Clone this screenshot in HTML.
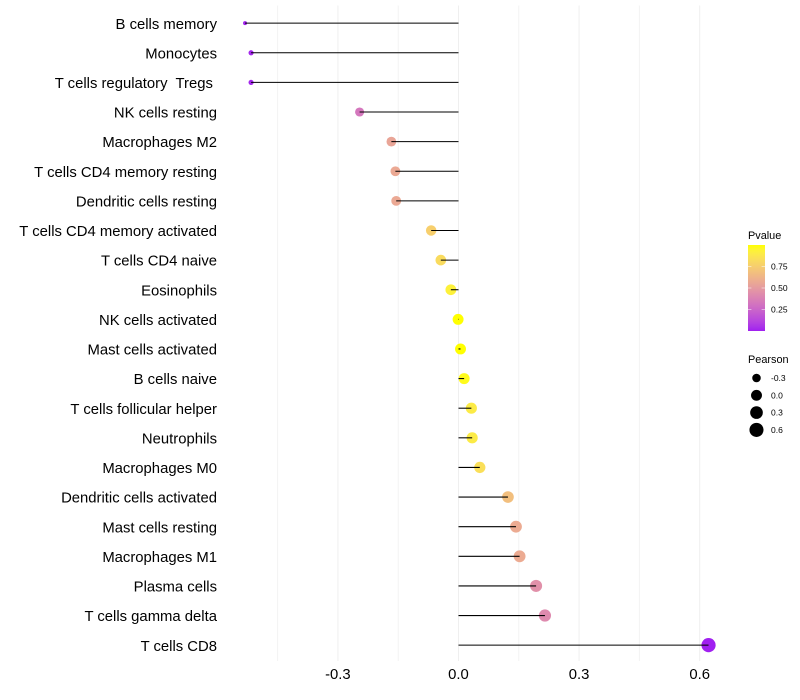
<!DOCTYPE html>
<html>
<head>
<meta charset="utf-8">
<title>Pearson lollipop chart</title>
<style>
html,body{margin:0;padding:0;background:#fff;}
svg{display:block;font-family:"Liberation Sans",sans-serif;}
text{white-space:pre;}
</style>
</head>
<body>
<svg id="chart" xmlns="http://www.w3.org/2000/svg" width="800" height="700" viewBox="0 0 800 700">
  <rect width="800" height="700" fill="#ffffff"/>
  <g id="grid"></g>
  <g id="stems"></g>
  <g id="ylabels"></g>
  <g id="xlabels"></g>
  <g id="pvalue-legend">
    <text x="748" y="239" font-size="10.9" fill="#000">Pvalue</text>
  </g>
  <g id="pearson-legend">
    <text x="748" y="363" font-size="10.9" fill="#000">Pearson</text>
  </g>
</svg>
<script>
const categories = ["B cells memory","Monocytes","T cells regulatory  Tregs ","NK cells resting","Macrophages M2","T cells CD4 memory resting","Dendritic cells resting","T cells CD4 memory activated","T cells CD4 naive","Eosinophils","NK cells activated","Mast cells activated","B cells naive","T cells follicular helper","Neutrophils","Macrophages M0","Dendritic cells activated","Mast cells resting","Macrophages M1","Plasma cells","T cells gamma delta","T cells CD8"];
const pearson = [-0.531,-0.516,-0.516,-0.246,-0.167,-0.157,-0.155,-0.068,-0.044,-0.019,-0.001,0.005,0.014,0.032,0.034,0.053,0.123,0.143,0.152,0.193,0.215,0.622];
const pvalues = [0.01,0.02,0.02,0.33,0.55,0.57,0.57,0.76,0.82,0.93,1.0,1.0,0.98,0.90,0.90,0.84,0.68,0.58,0.58,0.45,0.42,0.0];
const xMajorTicks = [-0.3,0.0,0.3,0.6];
const xMinorTicks = [-0.45,-0.15,0.15,0.45];
const pvalueTicks = [0.25,0.50,0.75];
const pearsonLegendValues = [-0.3,0.0,0.3,0.6];

const NS = "http://www.w3.org/2000/svg";
const xScale = v => 458.5 + v * 402;
const yScale = i => 23.15 + i * (622 / (categories.length - 1));
const minP = Math.min(...pearson), maxP = Math.max(...pearson);
const sizeScale = v => 2.0 + 5.1 * Math.sqrt(Math.max(0, (v - minP) / (maxP - minP)));
function lin(c){c/=255;return c>0.04045?Math.pow((c+0.055)/1.055,2.4):c/12.92;}
function gam(c){c=c<=0.0031308?12.92*c:1.055*Math.pow(c,1/2.4)-0.055;return Math.round(Math.min(1,Math.max(0,c))*255);}
function toLab(r,g,b){
  r=lin(r);g=lin(g);b=lin(b);
  const f=t=>t>0.008856?Math.cbrt(t):7.787*t+16/116;
  const X=f((0.4124*r+0.3576*g+0.1805*b)/0.95047),Y=f(0.2126*r+0.7152*g+0.0722*b),Z=f((0.0193*r+0.1192*g+0.9505*b)/1.08883);
  return [116*Y-16,500*(X-Y),200*(Y-Z)];
}
function fromLab(L,a,b){
  const fy=(L+16)/116,fx=a/500+fy,fz=fy-b/200;
  const g=t=>t*t*t>0.008856?t*t*t:(t-16/116)/7.787;
  const X=g(fx)*0.95047,Y=g(fy),Z=g(fz)*1.08883;
  return "rgb("+gam(3.2406*X-1.5372*Y-0.4986*Z)+","+gam(-0.9689*X+1.8758*Y+0.0415*Z)+","+gam(0.0557*X-0.204*Y+1.057*Z)+")";
}
const labLow = toLab(160,32,240), labHigh = toLab(255,255,0);
const colorScale = p => fromLab(labLow[0]+(labHigh[0]-labLow[0])*p, labLow[1]+(labHigh[1]-labLow[1])*p, labLow[2]+(labHigh[2]-labLow[2])*p);
function mk(parent, tag, attrs, txt){
  const el = document.createElementNS(NS, tag);
  for (const k in attrs) el.setAttribute(k, attrs[k]);
  if (txt !== undefined) el.textContent = txt;
  parent.appendChild(el);
  return el;
}
const slug = s => s.trim().toLowerCase().replace(/[^a-z0-9]+/g, "-");
const grid = document.getElementById("grid");
const stems = document.getElementById("stems");
const ylabels = document.getElementById("ylabels");
const xlabels = document.getElementById("xlabels");

xMinorTicks.concat(xMajorTicks).forEach(t => {
  const l = mk(grid, "line", {x1:xScale(t), x2:xScale(t), y1:5.5, y2:661, stroke:xMajorTicks.includes(t)?"#efefef":"#f3f3f3", "stroke-width":1});
  
  
});
xMajorTicks.forEach(t => {
  const l = mk(xlabels, "text", {x:xScale(t), y:679, "text-anchor":"middle", "font-size":14.85, fill:"#000"}, t.toFixed(1));
  
  
});
categories.forEach((c, i) => {
  const y = yScale(i);
  const label = mk(ylabels, "text", {x:217, y:y+5.6, "text-anchor":"end", "font-size":14.85, fill:"#000"}, c);
  
  
  const dot = mk(stems, "circle", {cx:xScale(pearson[i]), cy:y, r:sizeScale(pearson[i]), fill:colorScale(pvalues[i])});
  
  
  const stem = mk(stems, "line", {x1:xScale(0), x2:xScale(pearson[i]), y1:y, y2:y, stroke:"#000", "stroke-width":1.07});
  
  
});

const pLegend = document.getElementById("pvalue-legend");
const barTop = 245, barH = 86, barX = 748, barW = 17;
const barY = p => barTop + barH * (1 - p);
const defs = mk(document.getElementById("chart"), "defs", {});
const grad = mk(defs, "linearGradient", {id:"pgrad", x1:0, x2:0, y1:1, y2:0});
for (let s = 0; s <= 20; s++) {
  mk(grad, "stop", {offset:s/20, "stop-color":colorScale(s/20)});
}
const bar = mk(pLegend, "rect", {x:barX, y:barTop, width:barW, height:barH, fill:"url(#pgrad)"});


pvalueTicks.forEach(t => {
  const y = barY(t);
  [[barX, barX+3.4],[barX+barW-3.4, barX+barW]].forEach(s => {
    const l = mk(pLegend, "line", {x1:s[0], x2:s[1], y1:y, y2:y, stroke:"#fff", "stroke-width":0.5});
    
    
  });
  const lbl = mk(pLegend, "text", {x:771, y:y+3, "font-size":8.5, fill:"#000"}, t.toFixed(2));
  
  
});

const sLegend = document.getElementById("pearson-legend");
pearsonLegendValues.forEach((v, i) => {
  const y = 378 + i * 17.3;
  const dot = mk(sLegend, "circle", {cx:756.5, cy:y, r:sizeScale(v), fill:"#000"});
  
  
  const lbl = mk(sLegend, "text", {x:771, y:y+3, "font-size":8.5, fill:"#000"}, v.toFixed(1));
  
  
});
</script>
</body>
</html>
